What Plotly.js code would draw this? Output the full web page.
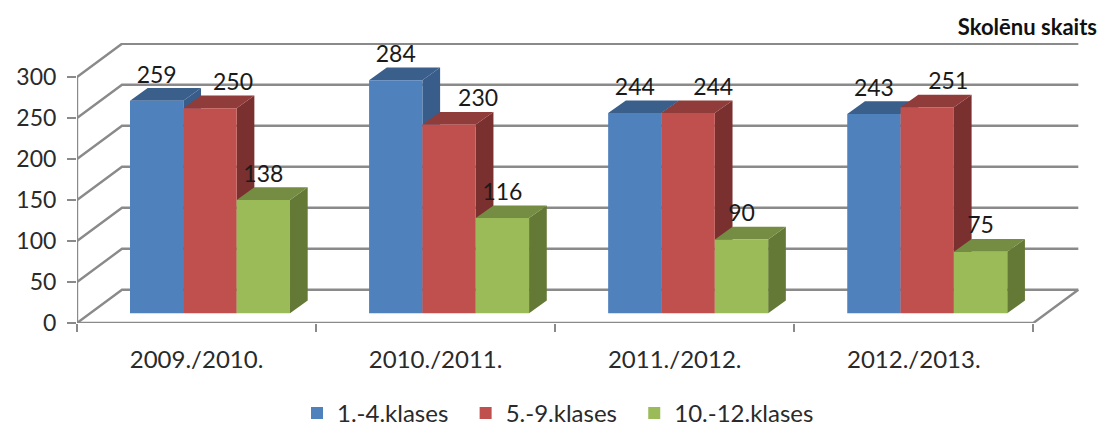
<!DOCTYPE html>
<html>
<head>
<meta charset="utf-8">
<script src="https://cdn.plot.ly/plotly-3.0.1.min.js"></script>
<style>html,body{margin:0;padding:0;background:#fff}#c{width:1099px;height:429px}</style>
</head>
<body>
<div id="c"></div>
<script>
const categories = ["2009./2010.", "2010./2011.", "2011./2012.", "2012./2013."];
const seriesNames = ["1.-4.klases", "5.-9.klases", "10.-12.klases"];
const values1 = [259, 284, 244, 243];
const values2 = [250, 230, 244, 251];
const values3 = [138, 116, 90, 75];
const yTicks = [0, 50, 100, 150, 200, 250, 300];
const frontColors = ["#4F81BD", "#C0504D", "#9BBB59"];
const topColors = ["#3A5F8B", "#8F3C3A", "#758C43"];
const sideColors = ["#385D8A", "#7A302F", "#647935"];

// Layout geometry (pixels → axis units)
const W = 1099, H = 429, L = 77, R = 19, T = 43, B = 105.5;
const pxX = 239.08, pxY = 0.8217;
const xMax = (W - L - R) / pxX, yMax = (H - T - B) / pxY;
const wallDx = 45 / pxX, wallDy = 33.3 / pxY;
const barW = 53.33 / pxX, barStart = 53 / pxX, barBase = 9.8 / pxY;
const sideDx = 17.7 / pxX, sideDy = 12.7 / pxY;
const labelRise = 24 / pxY;
const labelShiftPx = [[0,0,0,0],[23,29,25,21],[0,0,0,0]];
const legendPad = "\u00A0\u00A0";

const font = "Lato, 'Noto Sans', sans-serif";
const gridColor = "#8a8a8a";
const all = [values1, values2, values3];
const traces = [];

// walls: slanted gridlines and back-wall lines
const gx = [], gy = [];
yTicks.forEach(t => {
  gx.push(0, wallDx, 4 + wallDx, null);
  gy.push(t, t + wallDy, t + wallDy, null);
});
traces.push({type:"scatter", mode:"lines", x:gx, y:gy, line:{color:gridColor, width:2.4},
  showlegend:false, hoverinfo:"skip", cliponaxis:false, zorder:0});
// axis lines (front plane)
traces.push({type:"scatter", mode:"lines",
  x:[0, 0, null, 0, 4, 4 + wallDx], y:[0, 300, null, 0, 0, wallDy],
  line:{color:gridColor, width:2.4}, showlegend:false, hoverinfo:"skip", cliponaxis:false, zorder:0});

all.forEach((vals, s) => {
  const sx = [], sy = [], tx = [], ty = [], bx = [], lx = [], ly = [];
  vals.forEach((v, i) => {
    const xl = i + barStart + barW * s, xr = xl + barW, top = barBase + v;
    sx.push(xr, xr + sideDx, xr + sideDx, xr, xr, null);
    sy.push(barBase, barBase + sideDy, top + sideDy, top, barBase, null);
    tx.push(xl, xl + sideDx, xr + sideDx, xr, xl, null);
    ty.push(top, top + sideDy, top + sideDy, top, top, null);
    bx.push(xl + barW / 2);
    lx.push(xl + barW / 2 + labelShiftPx[s][i] / pxX);
    ly.push(top + labelRise);
  });
  const z = 1 + s * 2;
  traces.push({type:"scatter", mode:"lines", x:sx, y:sy, fill:"toself", fillcolor:sideColors[s],
    line:{width:0, color:sideColors[s]}, showlegend:false, hoverinfo:"skip", cliponaxis:false, zorder:z});
  traces.push({type:"scatter", mode:"lines", x:tx, y:ty, fill:"toself", fillcolor:topColors[s],
    line:{width:0, color:topColors[s]}, showlegend:false, hoverinfo:"skip", cliponaxis:false, zorder:z});
  traces.push({type:"bar", name:seriesNames[s] + (s < 2 ? legendPad : ""), x:bx, y:vals, base:barBase, width:barW,
    marker:{color:frontColors[s], line:{width:0}}, cliponaxis:false, zorder:z + 1});
  traces.push({type:"scatter", mode:"text", x:lx, y:ly, text:vals.map(String), textposition:"middle center",
    textfont:{family:font, size:23, color:"#1a1a1a"}, showlegend:false, hoverinfo:"skip", cliponaxis:false, zorder:10});
});

const layout = {
  width:W, height:H, margin:{l:L, r:R, t:T, b:B, pad:0, autoexpand:false},
  paper_bgcolor:"#fff", plot_bgcolor:"rgba(0,0,0,0)",
  barmode:"overlay", showlegend:true,
  title:{text:"Skolēnu skaits", x:1097/W, xanchor:"right", y:1-27/H, yanchor:"middle",
    font:{family:font, size:22, color:"#111", weight:700}},
  xaxis:{range:[0, xMax], tickmode:"array", tickvals:categories.map((c,i)=>i+0.5), ticktext:categories,
    ticks:"", showgrid:false, zeroline:false, showline:false, fixedrange:true,
    ticklabelstandoff:20, tickfont:{family:font, size:24, color:"#2a2a2a"},
    minor:{tickmode:"array", tickvals:[0,1,2,3,4], ticks:"outside", ticklen:8, tickwidth:2, tickcolor:gridColor, showgrid:false}},
  yaxis:{range:[0, yMax], tickmode:"array", tickvals:yTicks, ticks:"outside", ticklen:9, tickwidth:2,
    tickcolor:gridColor, showgrid:false, zeroline:false, showline:false, fixedrange:true,
    ticklabelstandoff:6, tickfont:{family:font, size:23, color:"#2a2a2a"}},
  legend:{orientation:"h", x:(297-L)/(W-L-R), xanchor:"left", y:-(414-323.5)/(H-T-B), yanchor:"middle",
    font:{family:font, size:24, color:"#2a2a2a"}, bgcolor:"rgba(0,0,0,0)", itemwidth:30, traceorder:"normal"}
};
Plotly.newPlot("c", traces, layout, {displayModeBar:false, staticPlot:true});
</script>
</body>
</html>
